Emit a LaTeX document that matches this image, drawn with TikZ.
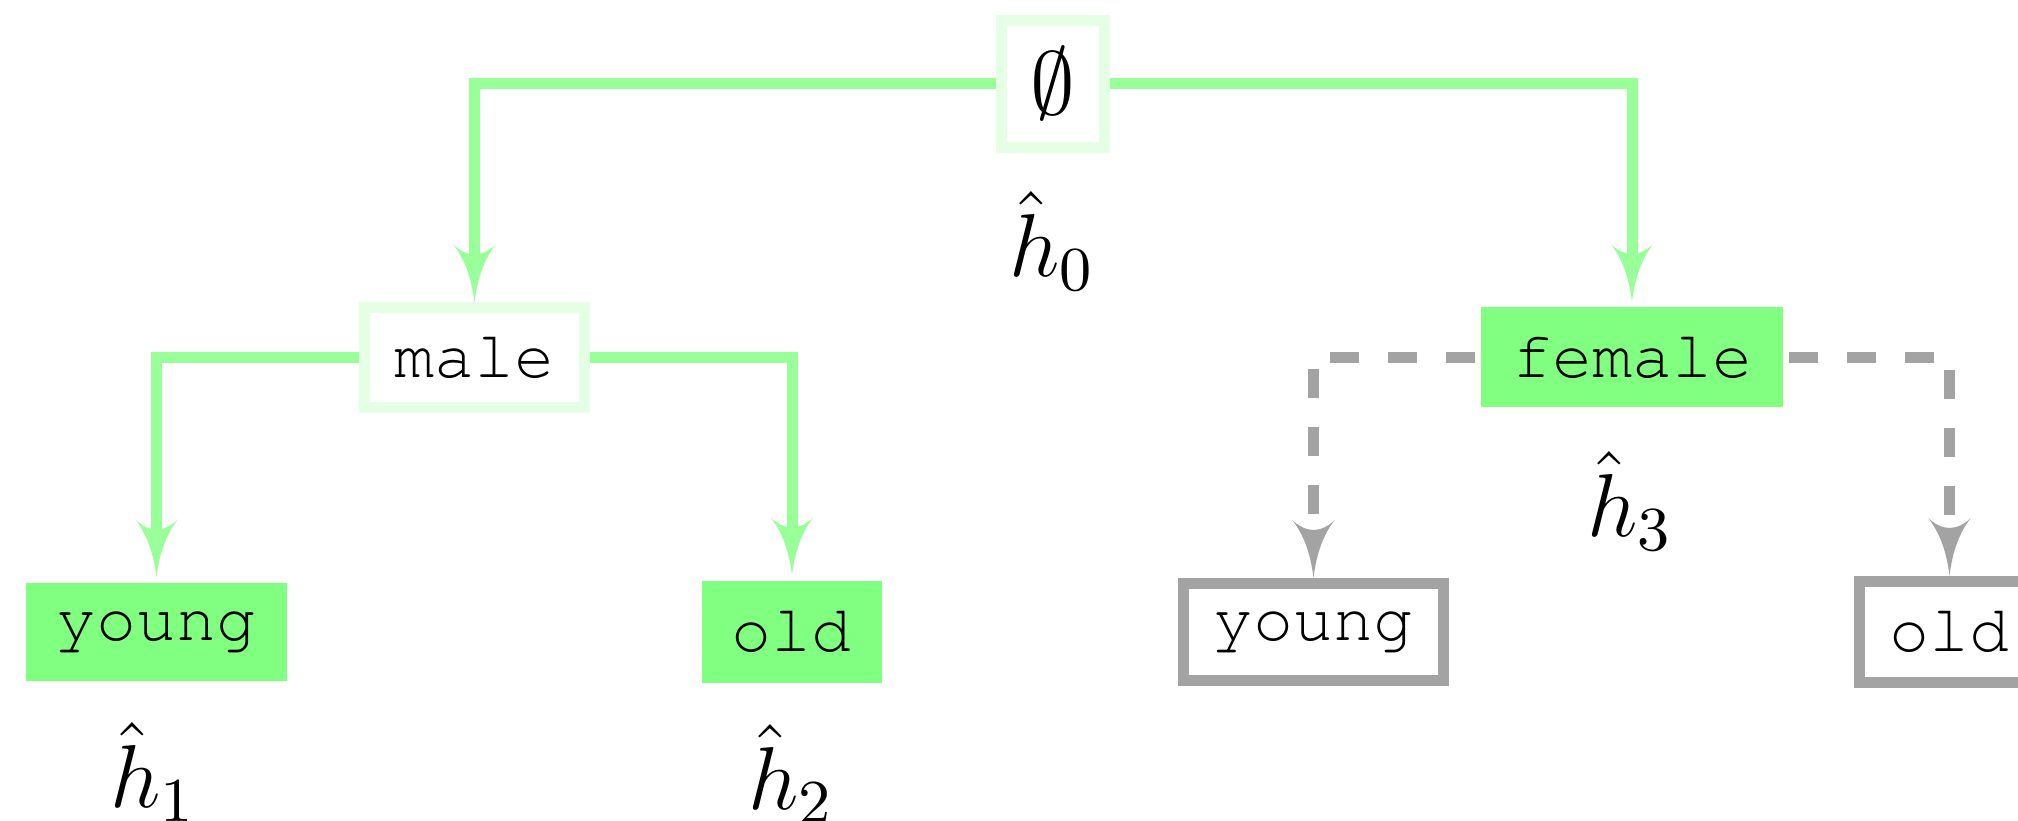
\RequirePackage{fix-cm}
\documentclass[tikz,border=0pt]{standalone}
\usepackage{fontspec}
\setmonofont{TeX Gyre Cursor}
\usetikzlibrary{arrows.meta}

\definecolor{lineGreen}{RGB}{153,255,153}
\definecolor{fillGreen}{RGB}{128,255,128}
\definecolor{paleGreen}{RGB}{229,255,229}
\definecolor{ghostGrey}{RGB}{163,163,163}

% Quill: a filled tip with concave flanks and a notched back
\pgfdeclarearrow{
  name = Quill,
  setup code = {
    \pgfarrowssettipend{0pt}
    \pgfarrowssetbackend{-8.7pt}
    \pgfarrowssetlineend{-6.5pt}
    \pgfarrowsupperhullpoint{-8.7pt}{3.2pt}
    \pgfarrowsupperhullpoint{0pt}{0pt}
  },
  drawing code = {
    \pgfpathmoveto{\pgfpoint{0pt}{0pt}}
    \pgfpathquadraticcurveto{\pgfpoint{-5.5pt}{0.65pt}}{\pgfpoint{-8.7pt}{3.2pt}}
    \pgfpathquadraticcurveto{\pgfpoint{-5.7pt}{0pt}}{\pgfpoint{-8.7pt}{-3.2pt}}
    \pgfpathquadraticcurveto{\pgfpoint{-5.5pt}{-0.65pt}}{\pgfpoint{0pt}{0pt}}
    \pgfpathclose
    \pgfusepathqfill
  }
}

\tikzset{
  box/.style={rectangle, inner sep=0pt, minimum height=15pt,
    font=\ttfamily\fontsize{10}{12}\selectfont},
  openbox/.style={box, draw=paleGreen, fill=white},
  pickedbox/.style={box, fill=fillGreen},
  greybox/.style={box, draw=ghostGrey, fill=white},
  hyp/.style={anchor=base, inner sep=0pt, font=\fontsize{13.4}{16}\selectfont},
  taken/.style={draw=lineGreen, -Quill},
  skipped/.style={draw=ghostGrey, dash pattern=on 4.35pt off 4.35pt, -Quill},
}

\begin{document}
\begin{tikzpicture}[x=0.15pt, y=-0.15pt, line width=1.65pt]
  \useasboundingbox (0,0) rectangle (2018,821);
  \clip (0,0) rectangle (2018,821);

  % lattice nodes
  \node[openbox, minimum width=15.45pt, minimum height=19.05pt,
        font=\fontsize{13.4}{16}\selectfont] (root) at (1053,84) {$\emptyset$};
  \node[openbox, minimum width=33pt] (male) at (474.5,358) {male};
  \node[pickedbox, minimum width=45.3pt] (female) at (1632,357.5) {female};
  \node[pickedbox, minimum width=39.15pt, minimum height=14.7pt] (myoung) at (156.5,632) {young};
  \node[pickedbox, minimum width=27pt, minimum height=15.3pt] (mold) at (792,632) {old};
  \node[greybox, minimum width=39pt, minimum height=14.55pt] (fyoung) at (1313.5,632) {young};
  \node[greybox, minimum width=27pt, minimum height=15.15pt] (fold) at (1949.5,632) {old};

  % hypothesis labels
  \node[hyp] (h0) at (1052,277) {$\hat{h}_0$};
  \node[hyp] (h1) at (153,808) {$\hat{h}_1$};
  \node[hyp] (h2) at (791,810) {$\hat{h}_2$};
  \node[hyp] (h3) at (1630,537) {$\hat{h}_3$};

  % refinement edges
  \draw[taken] (root.west) -| (male.north);
  \draw[taken] (root.east) -| (female.north);
  \draw[taken] (male.west) -| (myoung.north);
  \draw[taken] (male.east) -| (mold.north);
  \draw[skipped] (female.west) -| (fyoung.north);
  \draw[skipped] (female.east) -| (fold.north);
\end{tikzpicture}
\end{document}
